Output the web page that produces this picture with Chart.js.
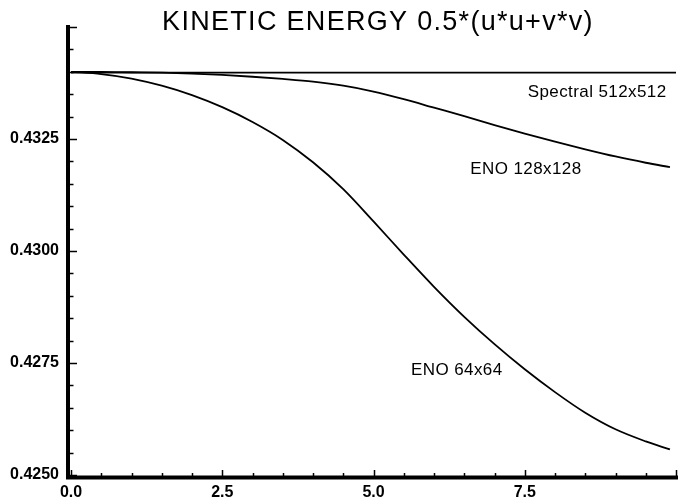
<!DOCTYPE html>
<html>
<head>
<meta charset="utf-8">
<script src="https://cdn.jsdelivr.net/npm/chart.js@4.4.1/dist/chart.umd.min.js"></script>
<style>
  html, body { margin: 0; padding: 0; background: #ffffff; }
  canvas { display: block; }
</style>
</head>
<body>
<canvas id="c" width="678" height="503"></canvas>
<script>
// ---- data ----
const titleText = "KINETIC ENERGY 0.5*(u*u+v*v)";
const timeValues = [0, 0.5, 1.0, 1.5, 2.0, 2.5, 3.0, 3.5, 4.0, 4.5, 5.0, 5.5, 6.0, 6.5, 7.0, 7.5, 8.0, 8.5, 9.0, 9.5, 9.9];
const eno64 = [0.43400, 0.43395, 0.43385, 0.43369, 0.43348, 0.43321, 0.43288, 0.43248, 0.43198, 0.43138, 0.43066, 0.42992, 0.42920, 0.42853, 0.42792, 0.42736, 0.42685, 0.42639, 0.42602, 0.42575, 0.42557];
const eno128 = [0.43400, 0.43400, 0.43399, 0.43398, 0.43396, 0.43393, 0.43389, 0.43384, 0.43378, 0.43369, 0.43356, 0.43339, 0.43320, 0.43301, 0.43281, 0.43262, 0.43244, 0.43227, 0.43211, 0.43197, 0.43187];
const spectralTimes = [0, 10];
const spectral512 = [0.43398, 0.43398];
const xTickLabels = [0, 2.5, 5.0, 7.5];
const yTickLabels = [0.4250, 0.4275, 0.4300, 0.4325];
const seriesNames = ["Spectral 512x512", "ENO 128x128", "ENO 64x64"];
// label anchor points (data units)
const labelAnchors = [
  { x: 7.55, y: 0.43354 },
  { x: 6.60, y: 0.43182 },
  { x: 5.62, y: 0.42733 }
];

function pts(xs, ys) { return xs.map((x, i) => ({ x: x, y: ys[i] })); }

const axesPlugin = {
  id: 'axesPlugin',
  afterDraw(chart) {
    const ctx = chart.ctx;
    const xs = chart.scales.x, ys = chart.scales.y;
    const a = chart.chartArea;
    ctx.save();
    ctx.strokeStyle = '#000';
    ctx.fillStyle = '#000';
    // axis lines
    ctx.lineWidth = 4;
    ctx.beginPath();
    ctx.moveTo(a.left - 3, a.top - 2);
    ctx.lineTo(a.left - 3, a.bottom + 2.5);
    ctx.lineTo(a.right + 2, a.bottom + 2.5);
    ctx.stroke();
    // y ticks (inward, to the right)
    ctx.lineWidth = 1.5;
    for (let i = 0; i <= 20; i++) {
      const v = 0.4250 + i * 0.0005;
      const major = i % 5 === 0;
      const py = Math.round(ys.getPixelForValue(v)) + 0.5;
      ctx.beginPath();
      ctx.moveTo(a.left - 1, py);
      ctx.lineTo(a.left - 1 + (major ? 7 : 3.5), py);
      ctx.stroke();
    }
    // x ticks (inward, upward)
    for (let i = 0; i <= 20; i++) {
      const v = i * 0.5;
      const major = i % 5 === 0;
      const px = Math.round(xs.getPixelForValue(v)) + 0.5;
      ctx.beginPath();
      ctx.moveTo(px, a.bottom + 1);
      ctx.lineTo(px, a.bottom + 1 - (major ? 6 : 3));
      ctx.stroke();
    }
    // title
    ctx.font = '27px "Liberation Sans", Arial, sans-serif';
    ctx.textAlign = 'center';
    ctx.textBaseline = 'middle';
    ctx.letterSpacing = '1.3px';
    ctx.fillText(titleText, 378, 22.5);
    // series labels
    ctx.font = '17px "Liberation Sans", Arial, sans-serif';
    ctx.letterSpacing = '0.4px';
    ctx.textAlign = 'left';
    labelAnchors.forEach((p, i) => {
      ctx.fillText(seriesNames[i], xs.getPixelForValue(p.x), ys.getPixelForValue(p.y));
    });
    ctx.restore();
  }
};

const lineStyle = { borderColor: '#000', borderWidth: 1.8, pointRadius: 0, fill: false, cubicInterpolationMode: 'monotone' };

new Chart(document.getElementById('c'), {
  type: 'line',
  data: {
    datasets: [
      Object.assign({ label: seriesNames[0], data: pts(spectralTimes, spectral512) }, lineStyle),
      Object.assign({ label: seriesNames[1], data: pts(timeValues, eno128) }, lineStyle),
      Object.assign({ label: seriesNames[2], data: pts(timeValues, eno64) }, lineStyle)
    ]
  },
  options: {
    responsive: false,
    animation: false,
    layout: { padding: { top: 27, right: 2, left: 0, bottom: 0 } },
    plugins: { legend: { display: false }, title: { display: false }, tooltip: { enabled: false } },
    scales: {
      x: {
        type: 'linear', min: 0, max: 10,
        grid: { display: false, drawTicks: false },
        border: { display: false },
        afterBuildTicks(s) { s.ticks = xTickLabels.map(v => ({ value: v })); },
        afterFit(s) { s.height = 28; },
        ticks: {
          color: '#000', padding: 8,
          font: { family: '"Liberation Sans", Arial, sans-serif', size: 16, weight: 'bold' },
          callback: v => Number(v).toFixed(1)
        }
      },
      y: {
        type: 'linear', min: 0.4250, max: 0.4350,
        grid: { display: false, drawTicks: false },
        border: { display: false },
        afterBuildTicks(s) { s.ticks = yTickLabels.map(v => ({ value: v })); },
        afterFit(s) { s.width = 71; },
        ticks: {
          color: '#000', padding: 12,
          font: { family: '"Liberation Sans", Arial, sans-serif', size: 16, weight: 'bold' },
          callback: v => Number(v).toFixed(4)
        }
      }
    }
  },
  plugins: [axesPlugin]
});
</script>
</body>
</html>
